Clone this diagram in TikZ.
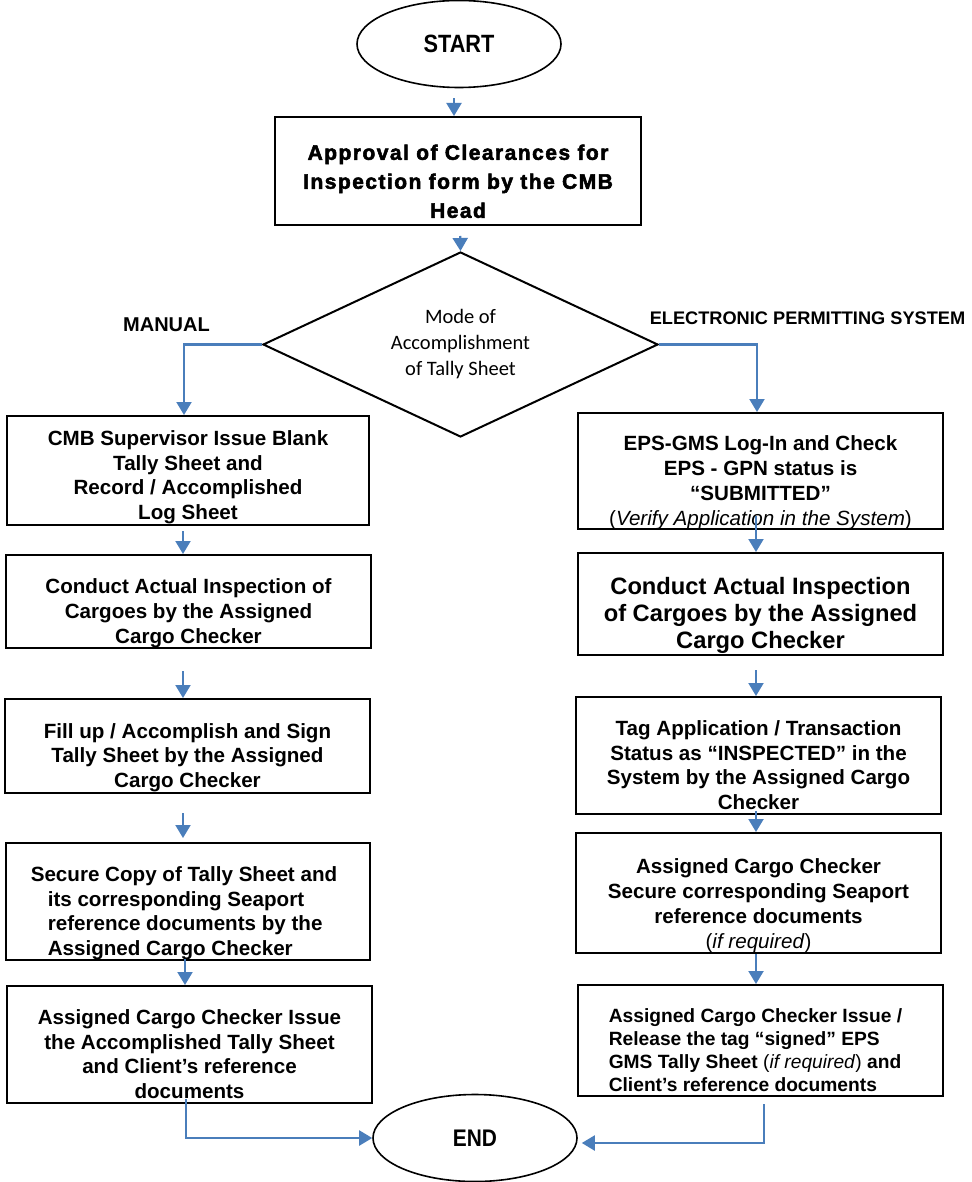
\documentclass[tikz,border=0pt]{standalone}
\usepackage{fontspec}
\setmainfont{Liberation Sans}
\newfontfamily\carlito{Carlito}
\newfontfamily\narrowfont[FakeStretch=0.87]{Liberation Sans}
\newfontfamily\heavyfont[LetterSpace=7.0,FakeBold=2.5]{Liberation Sans}
\usetikzlibrary{shapes.geometric,arrows.meta,calc}

% lines of a box text, shifted by (#2,#3) without changing the box size
\newcommand{\boxlines}[4]{\raisebox{#3}[\height][\depth]{\hspace*{#2}\begin{tabular}{@{}#1@{}}#4\end{tabular}\hspace*{-#2}}}

\definecolor{flowblue}{RGB}{74,126,187}

\tikzset{
  procbox/.style={draw, line width=2pt, rectangle, inner sep=0pt,
    font=\bfseries\fontsize{20.6}{24.8}\selectfont},
  terminal/.style={draw, ellipse, line width=1.6pt, inner sep=0pt,
    minimum width=204pt, minimum height=87pt,
    font=\narrowfont\bfseries\fontsize{25}{30}\selectfont},
  decision/.style={draw, diamond, line width=2pt, aspect=2.15, inner sep=0pt,
    minimum width=395pt, minimum height=185pt, align=center,
    font=\carlito\fontsize{20.5}{26}\selectfont},
  flow/.style={draw=flowblue, line width=2.1pt, -{Triangle[length=13pt,width=15pt]}},
  branchlabel/.style={inner sep=0pt, font=\bfseries\fontsize{20}{24}\selectfont}
}

\begin{document}
\begin{tikzpicture}[x=1pt,y=-1pt]
\fill[white] (0,0) rectangle (971,1182);
\useasboundingbox (0,0) rectangle (971,1182);

% start, approval and decision
\node[terminal] (start) at (459,44) {START};
\node[procbox, font=\heavyfont\bfseries\fontsize{21}{29}\selectfont,
      minimum width=366pt, minimum height=108pt] (A) at (458,171)
  {\boxlines{c}{0pt}{-12pt}{Approval of Clearances for\\Inspection form by the CMB\\Head}};
\node[decision] (D) at (460.5,344.5) {Mode of\\Accomplishment\\of Tally Sheet};

\node[branchlabel] (manual) at (166.5,325) {MANUAL};
\node[branchlabel, font=\bfseries\fontsize{18.2}{22}\selectfont] (eps) at (807.5,318.5)
  {ELECTRONIC PERMITTING SYSTEM};

% manual column
\node[procbox, minimum width=362pt, minimum height=109pt] (L1) at (188,470.5)
  {\boxlines{c}{0pt}{-7pt}{CMB Supervisor Issue Blank\\Tally Sheet and\\Record / Accomplished\\Log Sheet}};
\node[procbox, minimum width=365pt, minimum height=93pt] (L2) at (188.5,601.5)
  {\boxlines{c}{0pt}{-12pt}{Conduct Actual Inspection of\\Cargoes by the Assigned\\Cargo Checker}};
\node[procbox, minimum width=365pt, minimum height=94pt] (L3) at (187.5,746)
  {\boxlines{c}{0pt}{-12pt}{Fill up / Accomplish and Sign\\Tally Sheet by the Assigned\\Cargo Checker}};
\node[procbox, minimum width=364pt, minimum height=117pt] (L4) at (188,901.5)
  {\boxlines{l}{4.5pt}{-12pt}{\hspace*{-17pt}Secure Copy of Tally Sheet and\\its corresponding Seaport\\reference documents by the\\Assigned Cargo Checker}};
\node[procbox, minimum width=365pt, minimum height=117pt] (L5) at (189.5,1044.5)
  {\boxlines{c}{0pt}{-12pt}{Assigned Cargo Checker Issue\\the Accomplished Tally Sheet\\and Client’s reference\\documents}};

% electronic column
\node[procbox, minimum width=365pt, minimum height=116pt] (R1) at (760.5,471)
  {\boxlines{c}{0pt}{-12pt}{EPS-GMS Log-In and Check\\EPS - GPN status is\\“SUBMITTED”\\{\mdseries(\textit{Verify Application in the System})}}};
\node[procbox, font=\bfseries\fontsize{23.7}{27}\selectfont,
      minimum width=365pt, minimum height=102pt] (R2) at (760.5,604)
  {\boxlines{c}{0pt}{-12pt}{Conduct Actual Inspection\\of Cargoes by the Assigned\\Cargo Checker}};
\node[procbox, minimum width=365pt, minimum height=117pt] (R3) at (758.5,755.5)
  {\boxlines{c}{0pt}{-12pt}{Tag Application / Transaction\\Status as “INSPECTED” in the\\System by the Assigned Cargo\\Checker}};
\node[procbox, minimum width=365pt, minimum height=120pt] (R4) at (758.5,893)
  {\boxlines{c}{0pt}{-13pt}{Assigned Cargo Checker\\Secure corresponding Seaport\\reference documents\\{\mdseries(\textit{if required})}}};
\node[procbox, font=\bfseries\fontsize{19.2}{23}\selectfont,
      minimum width=365pt, minimum height=111pt] (R5) at (760.5,1040.5)
  {\boxlines{l}{-5pt}{-12pt}{Assigned Cargo Checker Issue /\\Release the tag “signed” EPS\\GMS Tally Sheet {\mdseries(\textit{if required})} and\\Client’s reference documents}};

\node[terminal, font=\narrowfont\bfseries\fontsize{24}{29}\selectfont] (end) at (475,1138) {END};

% connectors
\draw[flow, shorten <=10pt] ([xshift=-5pt]start.south) -- ([xshift=-5pt]start.south |- A.north);
\draw[flow, shorten <=10pt] ([xshift=2pt]A.south) -- (D.north);
\draw[flow] (D.west) -| ([xshift=-4pt]L1.north);
\draw[flow] (D.east) -| ([xshift=-3.5pt]R1.north);

\draw[flow, shorten <=5pt] ([xshift=-5pt]L1.south) -- ([xshift=-5pt]L1.south |- L2.north);
\draw[flow, shorten <=22pt] ([xshift=-5.5pt]L2.south) -- ([xshift=-5.5pt]L2.south |- L3.north);
\draw[flow, shorten <=19pt, shorten >=4pt] ([xshift=-4.5pt]L3.south) -- ([xshift=-4.5pt]L3.south |- L4.north);
\draw[flow, shorten <=-2pt] ([xshift=-3pt]L4.south) -- ([xshift=-3pt]L4.south |- L5.north);
\draw[flow, shorten <=-5pt] ([xshift=-3.5pt]L5.south) |- (end.west);

\draw[flow, shorten <=-14pt] ([xshift=-4.5pt]R1.south) -- ([xshift=-4.5pt]R1.south |- R2.north);
\draw[flow, shorten <=14pt] ([xshift=-4.5pt]R2.south) -- ([xshift=-4.5pt]R2.south |- R3.north);
\draw[flow, shorten <=-4pt] ([xshift=-2.5pt]R3.south) -- ([xshift=-2.5pt]R3.south |- R4.north);
\draw[flow] ([xshift=-2.5pt]R4.south) -- ([xshift=-2.5pt]R4.south |- R5.north);
\draw[flow, shorten <=7pt, shorten >=4pt] ([xshift=3.5pt]R5.south) |- ([yshift=-5pt]end.east);
\end{tikzpicture}
\end{document}
